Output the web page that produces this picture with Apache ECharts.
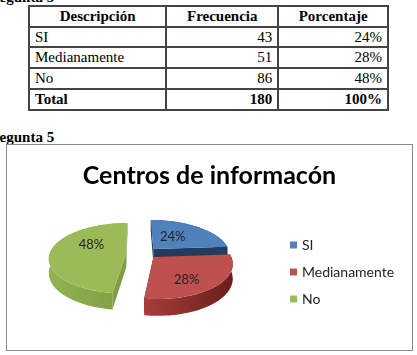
<!DOCTYPE html>
<html>
<head>
<meta charset="utf-8">
<script src="https://cdn.jsdelivr.net/npm/echarts@6/dist/echarts.min.js"></script>
<style>
  body { margin: 0; width: 417px; height: 355px; background: #fff; position: relative; overflow: hidden; }
  .head { position: absolute; left: -16px; font: bold 15px "Liberation Serif", serif; line-height: 15px; color: #000; }
  table { position: absolute; left: 28px; top: 5px; width: 361px; border-collapse: collapse; border: 2px solid #333;
          font: 15px "Liberation Serif", serif; color: #000; }
  td, th { border: 2px solid #444; height: 18.7px; padding: 0 5px; line-height: 18.7px; }
  th { text-align: center; font-weight: bold; }
  td.n { text-align: right; }
  tr.tot td { font-weight: bold; }
  #chart { position: absolute; left: 6px; top: 144px; width: 405px; height: 205px; border: 1px solid #8a8a8a; }
</style>
</head>
<body>
<div class="head" style="top:-10px">Pregunta 3</div>
<table id="tabla"></table>
<div class="head" style="top:130px">Pregunta 5</div>
<div id="chart"></div>
<script>
const titulo = 'Centros de informacón'
const columnas = ['Descripción', 'Frecuencia', 'Porcentaje']
const categorias = ['SI', 'Medianamente', 'No']
const frecuencia = [43, 51, 86]
const porcentaje = ['24%', '28%', '48%']
const total = ['Total', '180', '100%']

const colores = ['#4f81bd', '#c0504d', '#9bbb59']
const lados = [['#2f527e', '#213c5e'], ['#a63d3a', '#6a1f1d'], ['#92b251', '#7f9e44']]
// desplazamiento de cada porción (en unidades del radio)
const explode = [[0.257, -0.12], [0.25, 0.115], [-0.1, 0]]
// ajuste fino de las etiquetas (px)
const nudge = [[-4, -1], [4, 9], [3, -7]]

// tabla
let html = '<tr>' + columnas.map(c => '<th>' + c + '</th>').join('') + '</tr>'
categorias.forEach((c, i) => {
  html += '<tr><td>' + c + '</td><td class="n">' + frecuencia[i] + '</td><td class="n">' + porcentaje[i] + '</td></tr>'
})
html += '<tr class="tot"><td>' + total[0] + '</td><td class="n">' + total[1] + '</td><td class="n">' + total[2] + '</td></tr>'
document.getElementById('tabla').innerHTML = html

// pastel 3D
const CX = 127, CY = 108, RX = 76.5, RY = 34.4, H = 14, PERSP = 0.15
const suma = frecuencia.reduce((a, b) => a + b, 0)

function proj(u, v, w) {
  const p = 1 / (1 - PERSP * v)
  return [CX + RX * u * p, CY + (RY * v + H * w) * p]
}

function arco(s, e, off, w) {
  const n = Math.max(8, Math.ceil((e - s) / 0.04))
  const pts = []
  for (let k = 0; k <= n; k++) {
    const t = s + (e - s) * k / n
    pts.push(proj(Math.sin(t) + off[0], -Math.cos(t) + off[1], w))
  }
  return pts
}

function makeRender(idx) {
  return function (params, api) {
    let acc = 0
    for (let j = 0; j < idx; j++) acc += frecuencia[j]
    const val = api.value(0)
    const s = acc / suma * Math.PI * 2
    const e = (acc + val) / suma * Math.PI * 2
    const off = explode[idx]
    const c0 = proj(off[0], off[1], 0), c1 = proj(off[0], off[1], 1)
    const radial = t => {
      const a = proj(Math.sin(t) + off[0], -Math.cos(t) + off[1], 0)
      const b = proj(Math.sin(t) + off[0], -Math.cos(t) + off[1], 1)
      return [c0, a, b, c1]
    }
    const top = arco(s, e, off, 0)
    const bot = arco(s, e, off, 1)
    const grad = { type: 'linear', x: 0, y: 0, x2: 1, y2: 0,
      colorStops: [{ offset: 0, color: lados[idx][0] }, { offset: 1, color: lados[idx][1] }] }
    const m = (s + e) / 2, r = 0.5
    const lp = proj(Math.sin(m) * r + off[0], -Math.cos(m) * r + off[1], 0)
    return {
      type: 'group',
      children: [
        { type: 'polygon', shape: { points: radial(s) }, style: { fill: lados[idx][1] } },
        { type: 'polygon', shape: { points: radial(e) }, style: { fill: lados[idx][1] } },
        { type: 'polygon', shape: { points: top.concat(bot.slice().reverse()) }, style: { fill: grad } },
        { type: 'polygon', shape: { points: [c0].concat(top) }, style: { fill: api.visual('color') } },
        { type: 'text', style: { text: Math.round(val / suma * 100) + '%',
            x: lp[0] + nudge[idx][0], y: lp[1] + nudge[idx][1],
            align: 'center', verticalAlign: 'middle', fontFamily: 'Lato', fontSize: 13, fill: '#222' } }
      ]
    }
  }
}

const myChart = echarts.init(document.getElementById('chart'))
myChart.setOption({
  animation: false,
  title: {
    text: titulo,
    left: 'center',
    top: 13,
    textStyle: { fontFamily: 'Lato', fontWeight: 'bold', fontSize: 25, color: '#000' }
  },
  legend: {
    orient: 'vertical',
    left: 278,
    top: 88,
    icon: 'rect',
    itemWidth: 7,
    itemHeight: 7,
    itemGap: 13,
    textStyle: { fontFamily: 'Lato', fontSize: 14, color: '#222' },
    data: categorias
  },
  series: categorias.map((c, i) => ({
    type: 'custom',
    name: c,
    coordinateSystem: 'none',
    itemStyle: { color: colores[i] },
    renderItem: makeRender(i),
    data: [[frecuencia[i]]]
  }))
})
</script>
</body>
</html>
